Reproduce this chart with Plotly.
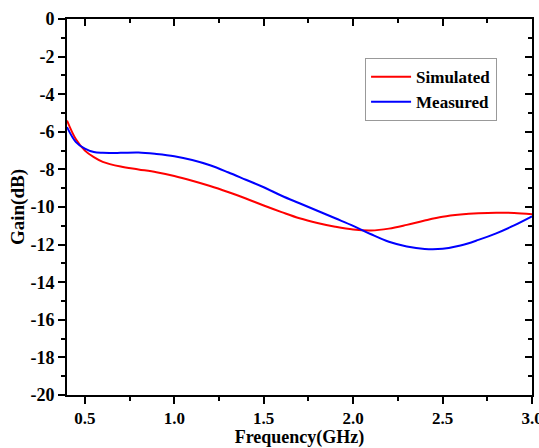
import plotly.graph_objects as go

freq = [0.4,0.45,0.5,0.55,0.6,0.7,0.8,0.9,1.0,1.1,1.2,1.3,1.4,1.5,1.6,1.7,1.8,1.9,2.0,2.1,2.2,2.3,2.4,2.5,2.6,2.7,2.8,2.9,3.0]
simulated = [-5.4,-6.4,-7.0,-7.35,-7.6,-7.85,-8.0,-8.15,-8.35,-8.6,-8.88,-9.2,-9.55,-9.92,-10.27,-10.6,-10.85,-11.05,-11.2,-11.25,-11.15,-10.95,-10.72,-10.52,-10.4,-10.33,-10.3,-10.32,-10.38]
measured = [-5.75,-6.55,-6.9,-7.08,-7.12,-7.12,-7.1,-7.18,-7.3,-7.5,-7.78,-8.15,-8.55,-8.95,-9.4,-9.8,-10.2,-10.6,-11.0,-11.45,-11.85,-12.1,-12.23,-12.22,-12.05,-11.75,-11.4,-10.98,-10.5]

FONT = "Liberation Serif"

fig = go.Figure()
fig.add_trace(go.Scatter(x=freq, y=simulated, mode="lines", name="<b>Simulated</b>",
                         line=dict(color="#ff0000", width=2, shape="spline")))
fig.add_trace(go.Scatter(x=freq, y=measured, mode="lines", name="<b>Measured</b>",
                         line=dict(color="#0000ff", width=2, shape="spline")))

common = dict(showgrid=False, zeroline=False, showline=True, linecolor="black", linewidth=2, automargin=False)

fig.update_layout(
    width=539, height=448,
    margin=dict(l=67, r=7, t=19, b=53),
    paper_bgcolor="white", plot_bgcolor="white",
    font=dict(family=FONT, size=18, color="black"),
    xaxis=dict(range=[0.4, 3.0], tickmode="array", tickvals=[0.5,1.0,1.5,2.0,2.5,3.0],
               ticktext=["<b>0.5</b>","<b>1.0</b>","<b>1.5</b>","<b>2.0</b>","<b>2.5</b>","<b>3.0</b>"],
               ticks="outside", ticklen=7, tickwidth=2, tickcolor="black", ticklabeloverflow="allow",
               tickfont=dict(size=17),
               minor=dict(tickvals=[0.75,1.25,1.75,2.25,2.75], ticks="outside", ticklen=4, tickwidth=2, tickcolor="black"),
               title=dict(text="<b>Frequency(GHz)</b>", standoff=5, font=dict(size=18)),
               **common),
    yaxis=dict(range=[-20, 0], tickmode="array", tickvals=list(range(-20, 1, 2)),
               ticktext=[f"<b>{v}</b>" for v in range(-20, 1, 2)],
               ticks="outside", ticklen=7, tickwidth=2, tickcolor="black", ticklabeloverflow="allow",
               tickfont=dict(size=18),
               minor=dict(tickvals=list(range(-19, 0, 2)), ticks="outside", ticklen=4, tickwidth=2, tickcolor="black"),
               title=dict(text="<b>Gain(dB)</b>", standoff=1, font=dict(size=19)),
               **common),
    xaxis2=dict(range=[0.4, 3.0], overlaying="x", side="top", anchor="y",
                tickvals=[0.5,1.0,1.5,2.0,2.5,3.0], showticklabels=False,
                ticks="inside", ticklen=7, tickwidth=2, tickcolor="black",
                minor=dict(tickvals=[0.75,1.25,1.75,2.25,2.75], ticks="inside", ticklen=4, tickwidth=2, tickcolor="black"),
                **common),
    yaxis2=dict(range=[-20, 0], overlaying="y", side="right", anchor="x",
                tickvals=list(range(-20, 1, 2)), showticklabels=False,
                ticks="inside", ticklen=7, tickwidth=2, tickcolor="black",
                minor=dict(tickvals=list(range(-19, 0, 2)), ticks="inside", ticklen=4, tickwidth=2, tickcolor="black"),
                **common),
    legend=dict(x=0.641, y=0.896, xanchor="left", yanchor="top",
                bordercolor="#999999", borderwidth=1, bgcolor="white",
                font=dict(family=FONT, size=17), itemwidth=40, tracegroupgap=0),
    showlegend=True,
)
fig.add_trace(go.Scatter(x=[None], y=[None], xaxis="x2", yaxis="y2", showlegend=False, hoverinfo="skip"))

fig.write_html("out.html")
